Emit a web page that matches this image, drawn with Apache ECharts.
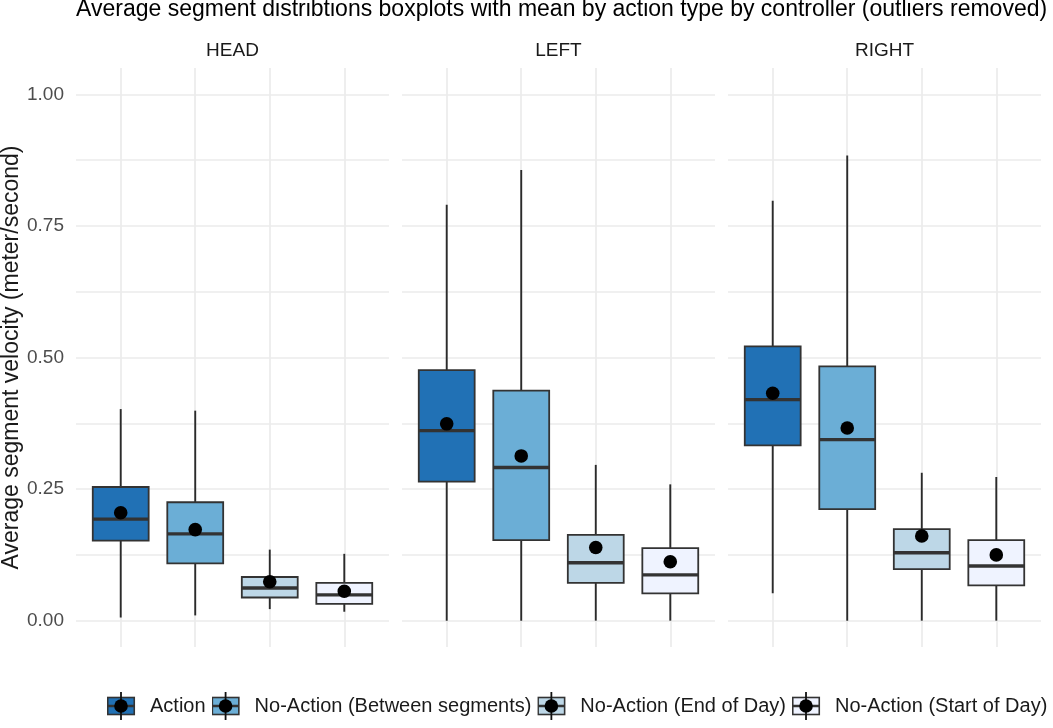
<!DOCTYPE html>
<html>
<head>
<meta charset="utf-8">
<title>Average segment velocity by controller</title>
<script src="https://cdn.jsdelivr.net/npm/echarts@6/dist/echarts.min.js"></script>
<style>
    html, body { margin: 0; padding: 0; background: #fff; }
    #Box-Chart { width: 1053px; height: 728px; }
</style>
</head>
<body>
<div id="Box-Chart"></div>
<script>
// data
var controllers = ['HEAD', 'LEFT', 'RIGHT'];
var actionTypes = ['Action', 'No-Action (Between segments)', 'No-Action (End of Day)', 'No-Action (Start of Day)'];
var boxColors = ['#2171B5', '#6BAED6', '#BDD7E7', '#EFF3FF'];

// [lower whisker, Q1, median, Q3, upper whisker] per action type
var headStats = [
    [0.006, 0.152, 0.193, 0.254, 0.402],
    [0.010, 0.109, 0.165, 0.225, 0.399],
    [0.022, 0.044, 0.062, 0.083, 0.135],
    [0.017, 0.032, 0.049, 0.072, 0.127]
];
var leftStats = [
    [0.000, 0.264, 0.361, 0.476, 0.790],
    [0.000, 0.153, 0.291, 0.437, 0.856],
    [0.000, 0.072, 0.110, 0.163, 0.296],
    [0.000, 0.052, 0.087, 0.138, 0.259]
];
var rightStats = [
    [0.052, 0.333, 0.420, 0.521, 0.798],
    [0.000, 0.212, 0.344, 0.483, 0.884],
    [0.000, 0.098, 0.129, 0.174, 0.281],
    [0.000, 0.067, 0.104, 0.153, 0.273]
];
var headMeans = [0.205, 0.173, 0.074, 0.056];
var leftMeans = [0.374, 0.313, 0.139, 0.112];
var rightMeans = [0.432, 0.366, 0.161, 0.125];

var yTickLabels = [0, 0.25, 0.5, 0.75, 1.0];
var yGridValues = [0, 0.125, 0.25, 0.375, 0.5, 0.625, 0.75, 0.875, 1.0];

var allStats = [headStats, leftStats, rightStats];
var allMeans = [headMeans, leftMeans, rightMeans];

var FONT = '"Liberation Sans", Arial, sans-serif';
var GRID_COLOR = '#EBEBEB';
var panelLeft = [76, 402, 728];
var panelWidth = 313;

window.legendIcon = function (fill) {
    var svg = '<svg xmlns="http://www.w3.org/2000/svg" width="38" height="28" viewBox="0 0 38 28">' +
        '<rect x="0.75" y="5.5" width="26.5" height="17" fill="' + fill + '" stroke="#333333" stroke-width="1.6"/>' +
        '<line x1="0.75" y1="14" x2="27.25" y2="14" stroke="#333333" stroke-width="2.5"/>' +
        '<line x1="14" y1="0" x2="14" y2="28" stroke="#111111" stroke-width="1.8"/>' +
        '<circle cx="14" cy="14" r="6.8" fill="#000000"/></svg>';
    return 'image://data:image/svg+xml;charset=utf-8,' + encodeURIComponent(svg);
}

// box + whisker + thick median + mean dot, all through the axis scales
window.renderBox = function (params, api) {
    var x = api.value(0);
    var lo = api.coord([x, api.value(1)]);
    var q1 = api.coord([x, api.value(2)]);
    var md = api.coord([x, api.value(3)]);
    var q3 = api.coord([x, api.value(4)]);
    var hi = api.coord([x, api.value(5)]);
    var mn = api.coord([x, api.value(6)]);
    var half = api.size([0.75, 0])[0] / 2;
    var fill = boxColors[params.dataIndex];
    return {
        type: 'group',
        children: [
            { type: 'line', shape: { x1: lo[0], y1: lo[1], x2: hi[0], y2: hi[1] }, style: { stroke: '#2B2B2B', lineWidth: 1.9 } },
            { type: 'rect', shape: { x: q3[0] - half, y: q3[1], width: half * 2, height: q1[1] - q3[1] }, style: { fill: fill, stroke: '#333333', lineWidth: 1.8 } },
            { type: 'line', shape: { x1: md[0] - half, y1: md[1], x2: md[0] + half, y2: md[1] }, style: { stroke: '#333333', lineWidth: 3.4 } },
            { type: 'circle', shape: { cx: mn[0], cy: mn[1], r: 6.8 }, style: { fill: '#000000' } }
        ]
    };
}

window.BoxCharts = function () {
    var chartDom = document.getElementById('Box-Chart');
    var myChart = echarts.init(chartDom, null, { renderer: 'canvas' });

    var grids = [], xAxes = [], yAxes = [], series = [];
    var titles = [{
        text: 'Average segment distribtions boxplots with mean by action type by controller (outliers removed)',
        left: 76,
        top: -2,
        padding: 0,
        textStyle: { fontFamily: FONT, fontSize: 23, fontWeight: 'normal', color: '#000' }
    }];

    controllers.forEach(function (name, i) {
        grids.push({
            left: panelLeft[i], top: 68, width: panelWidth, height: 579,
            containLabel: false, outerBoundsMode: 'none'
        });
        titles.push({
            text: name,
            left: panelLeft[i] + panelWidth / 2,
            top: 41,
            padding: 0,
            textAlign: 'center',
            textStyle: { fontFamily: FONT, fontSize: 19, fontWeight: 'normal', color: '#1A1A1A' }
        });
        xAxes.push({
            type: 'value', gridIndex: i, min: 0.4, max: 4.6,
            axisLine: { show: false },
            axisTick: { show: false, customValues: [1, 2, 3, 4] },
            axisLabel: { show: false },
            splitLine: { show: true, lineStyle: { color: GRID_COLOR, width: 1.7 } }
        });
        yAxes.push({
            type: 'value', gridIndex: i, min: -0.05, max: 1.05,
            name: i === 0 ? 'Average segment velocity (meter/second)' : '',
            nameLocation: 'middle',
            nameRotate: 90,
            nameGap: 50,
            nameTextStyle: { fontFamily: FONT, fontSize: 23, color: '#1A1A1A' },
            axisLine: { show: false },
            axisTick: { show: false, customValues: yGridValues },
            axisLabel: {
                show: i === 0,
                customValues: yTickLabels,
                margin: 12,
                fontFamily: FONT,
                fontSize: 19,
                color: '#4D4D4D',
                formatter: function (v) { return v.toFixed(2); }
            },
            splitLine: { show: true, lineStyle: { color: GRID_COLOR, width: 1.7 } }
        });

        var rows = allStats[i].map(function (s, k) {
            return [k + 1].concat(s).concat([allMeans[i][k]]);
        });
        series.push({
            type: 'custom',
            name: name,
            xAxisIndex: i,
            yAxisIndex: i,
            renderItem: window.renderBox,
            encode: { x: 0, y: [1, 2, 3, 4, 5, 6] },
            data: rows,
            silent: true
        });
    });

    // empty series, only here for the legend entries
    actionTypes.forEach(function (a, k) {
        series.push({ type: 'scatter', name: a, data: [], itemStyle: { color: boxColors[k] } });
    });

    var option = {
        backgroundColor: '#fff',
        animation: false,
        title: titles,
        grid: grids,
        xAxis: xAxes,
        yAxis: yAxes,
        legend: {
            left: 107,
            top: 692,
            padding: 0,
            itemWidth: 38,
            itemHeight: 28,
            itemGap: 6,
            selectedMode: false,
            textStyle: { fontFamily: FONT, fontSize: 20, color: '#1A1A1A' },
            data: actionTypes.map(function (a, k) {
                return { name: a, icon: window.legendIcon(boxColors[k]), itemStyle: { opacity: 1 } };
            })
        },
        series: series
    };

    option && myChart.setOption(option);
}

window.BoxCharts();
</script>
</body>
</html>
